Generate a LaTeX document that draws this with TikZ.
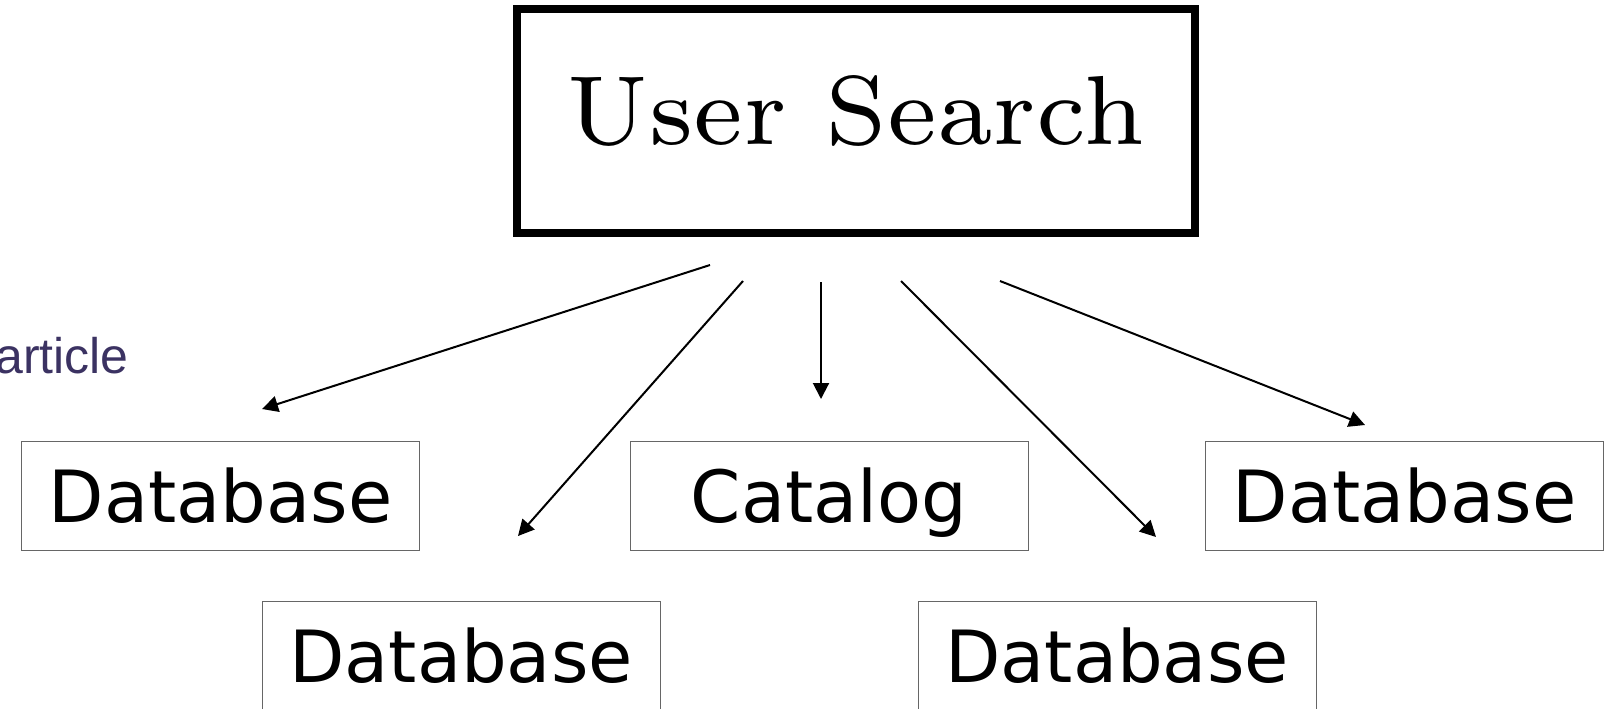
\documentclass[tikz,border=0pt]{standalone}
\usepackage{fontspec}
\usepackage{graphicx}
\usetikzlibrary{arrows.meta}
\newfontfamily\dbfont{DejaVu Sans}
\newfontfamily\notefont{Liberation Sans}
\newfontfamily\searchfont{lmroman7-regular.otf}
\definecolor{notecol}{HTML}{3B3262}

\begin{document}
\begin{tikzpicture}[x=0.75pt,y=-0.75pt,
  dbbox/.style={draw=black!60,line width=0.75pt,minimum width=298.5pt,minimum height=81.75pt,
    inner sep=0pt,font=\dbfont\fontsize{54}{60}\selectfont,text height=39.4pt,text depth=0pt},
  searchbox/.style={draw,line width=6pt,minimum width=508.5pt,minimum height=168pt,
    inner sep=0pt,font=\searchfont\fontsize{73.6}{80}\selectfont,text height=50.3pt,text depth=15.8pt},
  arr/.style={line width=1.5pt,-{Triangle[length=12pt,width=12pt]}}]
\useasboundingbox (0,0) rectangle (1612,708);

\node[searchbox] (search) at (856,121) {User Search};

\node[dbbox] (db1) at (220.5,496) {Database};
\node[dbbox] (cat) at (829,496) {Catalog};
\node[dbbox] (db5) at (1404.5,496) {Database};
\node[dbbox] (db2) at (461,656) {Database};
\node[dbbox] (db4) at (1117,656) {Database};

\node[anchor=base east,inner sep=0pt,text=notecol,font=\notefont\fontsize{37.5}{40}\selectfont] (note) at (129,373) {article};

\coordinate (s1) at (710,265);
\coordinate (t1) at (262,409);
\coordinate (s2) at (743,281);
\coordinate (t2) at (518,536);
\coordinate (s3) at (821,282);
\coordinate (t3) at (821,399);
\coordinate (s4) at (901,281);
\coordinate (t4) at (1156,537);
\coordinate (s5) at (1000,281);
\coordinate (t5) at (1365,425);

\draw[arr] (s1) -- (t1);
\draw[arr] (s2) -- (t2);
\draw[arr] (s3) -- (t3);
\draw[arr] (s4) -- (t4);
\draw[arr] (s5) -- (t5);
\end{tikzpicture}
\end{document}
